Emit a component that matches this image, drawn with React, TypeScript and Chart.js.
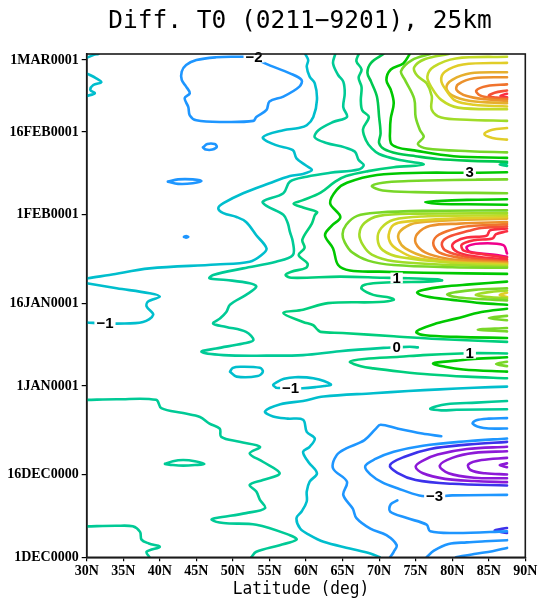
import React, { useEffect, useRef } from "react";
import { Chart, registerables } from "chart.js";

Chart.register(...registerables);

// ---------- axes ----------
const latTicks = [30, 35, 40, 45, 50, 55, 60, 65, 70, 75, 80, 85, 90];
const latTickLabels = ["30N", "35N", "40N", "45N", "50N", "55N", "60N", "65N", "70N", "75N", "80N", "85N", "90N"];
const dayTicks = [0, 15, 31, 46, 62, 77, 90];
const dayTickLabels = ["1DEC0000", "16DEC0000", "1JAN0001", "16JAN0001", "1FEB0001", "16FEB0001", "1MAR0001"];
const latRange = [30, 90];
const dayRange = [0, 91.1];
const titleText = "Diff. T0 (0211\u22129201), 25km";
const xTitleText = "Latitude (deg)";

// ---------- contour lines: [latitude, day since 1 DEC] ----------
const cyanCornerTop = [[30, 90.4], [30.9, 90.9], [31.6, 91.1]];
const cyanLoopTopLeft = [[30, 87.6], [31.3, 86.7], [32.0, 86.0], [30.9, 85.5], [30.5, 84.6], [31.1, 84.0], [30, 83.5]];
const blueMinus2Loop = [[52.8, 90.6], [54.4, 89.4], [57.8, 87.6], [59.4, 86.4], [59.1, 85.2], [56.9, 83.4], [55.0, 82.5], [54.6, 81.0], [53.2, 79.7], [52.8, 79.0], [48.7, 78.8], [45.0, 79.1], [44.1, 80.0], [43.9, 81.5], [43.4, 83.1], [44.1, 84.0], [43.6, 85.2], [43.0, 86.4], [43.0, 87.9], [43.6, 89.1], [45.0, 90.0], [47.7, 90.5], [50.5, 90.6], [52.8, 90.6]];
const blueOvalSmall = [[45.9, 74.2], [46.5, 74.8], [47.5, 74.8], [47.8, 74.3], [47.2, 73.8], [46.3, 73.8], [45.9, 74.2]];
const blueOvalLong = [[41.1, 68.0], [42.5, 68.4], [44.5, 68.4], [45.7, 68.1], [44.5, 67.7], [42.5, 67.6], [41.1, 68.0]];
const blueDot = [[43.3, 58.0], [43.6, 58.15], [43.9, 58.0], [43.6, 57.85], [43.3, 58.0]];

const cyanMain = [[59.9, 91.1], [60.3, 90.0], [60.1, 88.8], [60.5, 87.0], [61.2, 85.8], [61.5, 82.8], [61.0, 79.7], [60.1, 78.2], [59.0, 77.7], [56.9, 77.3], [54.1, 76.0], [55.9, 74.6], [58.2, 73.7], [58.7, 72.2], [59.9, 71.0], [60.8, 70.1], [59.6, 69.4], [57.8, 69.0], [55.0, 67.7], [51.4, 65.9], [48.7, 64.1], [48.0, 63.2], [48.7, 62.3], [50.5, 61.6], [51.8, 60.7], [53.2, 58.3], [54.6, 55.9], [53.9, 54.7], [52.3, 53.5], [47.7, 53.0], [38.6, 52.3], [33.1, 51.1], [30.2, 50.5], [30, 50.4]];
const cyanLeftLoop = [[30, 49.6], [34.1, 48.7], [38.6, 47.8], [40.0, 47.2], [38.4, 46.3], [38.2, 45.4], [39.1, 43.9], [37.7, 42.6], [34.1, 42.3], [32.5, 42.3], [30, 42.5]];

const teal0Line = [[64.0, 91.1], [63.7, 89.4], [64.4, 87.3], [65.1, 86.1], [65.3, 84.0], [65.1, 81.5], [65.6, 79.7], [63.7, 78.8], [61.7, 77.3], [61.2, 76.0], [62.8, 75.0], [65.3, 74.2], [66.7, 73.4], [67.2, 71.9], [67.9, 71.0], [67.2, 70.2], [63.3, 69.6], [60.1, 68.9], [57.8, 68.0], [56.9, 65.9], [54.1, 64.4], [54.6, 63.6], [56.9, 62.0], [57.5, 60.5], [57.8, 58.9], [58.2, 57.1], [58.2, 54.7], [55.9, 53.5], [51.4, 52.3], [47.3, 51.1], [46.8, 50.5], [49.1, 50.2], [52.3, 49.6], [53.2, 49.0], [51.8, 47.5], [49.6, 45.7], [49.1, 44.4], [48.2, 43.2], [47.3, 42.3], [49.1, 41.7], [51.8, 40.8], [52.8, 39.3], [51.4, 38.7], [47.7, 37.8], [45.7, 37.2], [48.7, 36.6], [54.6, 36.5], [59.6, 36.6], [64.6, 37.3], [70.6, 37.9], [72.4, 38.0], [74.2, 38.1], [75.3, 38.0]];
const teal1Line = [[67.2, 91.1], [66.9, 89.8], [67.6, 88.3], [67.2, 86.8], [67.6, 85.1], [67.5, 82.7], [67.7, 80.9], [68.6, 79.7], [67.8, 77.5], [68.2, 75.5], [69.0, 74.0], [70.0, 73.0], [72.5, 72.0], [76.1, 71.1], [72.0, 70.6], [68.5, 69.9], [65.5, 69.0], [64.0, 68.0], [62.0, 66.0], [59.5, 64.6], [58.3, 64.0], [59.6, 63.3], [61.5, 62.5], [61.2, 61.9], [60.8, 60.4], [59.5, 57.5], [59.8, 56.0], [59.0, 54.7], [60.2, 53.2], [60.0, 52.4], [58.0, 51.7], [57.2, 51.1], [58.0, 50.6], [64.7, 50.8], [70.6, 50.6], [72.4, 50.55], [74.0, 50.5], [78.0, 50.3], [78.6, 50.1], [76.5, 49.9], [72.5, 49.8], [69.2, 49.6], [67.8, 49.2], [67.6, 48.6], [69.2, 47.5], [71.5, 47.0], [72.0, 46.6], [70.0, 46.2], [63.0, 46.0], [59.6, 44.8], [56.9, 44.2], [59.6, 42.6], [61.0, 42.0], [61.5, 41.3], [62.0, 40.8], [65.0, 40.6], [72.0, 40.0], [78.0, 39.5], [87.5, 39.0]];
const green2Line = [[70.6, 91.1], [68.9, 89.5], [68.4, 87.7], [68.9, 86.1], [69.7, 83.4], [70.0, 79.7], [70.2, 76.7], [70.0, 75.0], [70.7, 73.9], [72.5, 73.1], [75.0, 72.6], [78.0, 72.1], [82.0, 71.8], [87.5, 71.6]];
const green3Upper = [[74.2, 91.1], [73.3, 89.4], [71.6, 88.3], [71.0, 86.4], [71.6, 84.6], [72.0, 82.2], [71.6, 79.5], [71.5, 77.3], [71.6, 75.0], [72.5, 74.2], [74.5, 73.7], [80.2, 72.6], [87.5, 72.3]];
const green3Big = [[87.5, 69.7], [83.6, 69.6], [81.2, 69.6], [76.1, 69.6], [69.7, 69.2], [65.6, 67.8], [64.2, 66.5], [63.3, 64.1], [64.7, 61.6], [63.5, 60.0], [62.6, 58.3], [63.7, 55.9], [64.4, 52.9], [66.0, 51.9], [70.0, 51.7], [76.1, 51.5], [87.5, 51.3]];
const tealShortU = [[87.5, 71.35], [86.5, 71.1], [87.5, 70.85]];

// top-right maximum (late February)
const yg4TopRight = [[77.0, 91.1], [74.5, 90.0], [73.0, 88.0], [73.5, 86.5], [74.8, 83.0], [75.0, 79.7], [75.6, 77.3], [76.1, 76.1], [75.3, 74.8], [76.5, 74.0], [82.4, 73.5], [87.5, 73.3]];
const yg5TopRight = [[79.5, 91.1], [76.3, 90.2], [74.8, 88.7], [75.2, 87.2], [76.5, 85.8], [77.2, 83.5], [77.2, 81.0], [78.5, 79.6], [82.0, 79.2], [87.5, 79.0]];
const yg6TopRight = [[87.5, 90.6], [80.5, 90.3], [77.5, 88.8], [76.6, 87.0], [77.2, 85.0], [78.5, 82.8], [80.8, 81.4], [87.5, 81.1]];
const yellow7TopRight = [[87.5, 89.5], [81.5, 89.2], [79.0, 87.9], [78.5, 86.3], [79.2, 84.5], [80.5, 82.6], [83.0, 81.9], [87.5, 81.6]];
const gold8TopRight = [[87.5, 87.8], [82.5, 87.6], [80.0, 86.4], [79.2, 85.0], [80.0, 83.6], [82.5, 82.6], [87.5, 82.2]];
const orange9TopRight = [[87.5, 86.9], [83.0, 86.7], [80.8, 85.6], [80.6, 84.6], [82.0, 83.5], [84.5, 82.9], [87.5, 82.6]];
const orange10TopRight = [[87.5, 85.6], [84.8, 85.3], [83.3, 84.5], [83.8, 83.6], [85.5, 83.1], [87.5, 82.9]];
const redOrange11TopRight = [[87.5, 84.5], [85.8, 84.1], [85.0, 83.5], [86.0, 83.2], [87.5, 83.1]];
const red12TopRight = [[87.5, 83.9], [86.6, 83.5], [87.5, 83.25]];
const yellowSmallU = [[87.5, 77.7], [85.5, 77.4], [84.4, 76.6], [85.5, 75.9], [87.5, 75.6]];

// late-January maximum
const yg4Loop = [[87.5, 68.4], [80.0, 68.3], [74.0, 68.1], [70.5, 67.8], [69.0, 67.2], [70.5, 66.4], [75.0, 66.1], [87.5, 65.9]];
const green3SmallLoop = [[87.5, 64.8], [82.0, 64.7], [78.0, 64.5], [76.3, 64.3], [78.0, 64.0], [82.0, 63.9], [87.5, 63.8]];
const yg4Jan = [[87.5, 62.8], [76.0, 62.7], [70.0, 62.4], [67.0, 61.8], [65.5, 60.2], [65.0, 58.5], [65.3, 57.0], [66.3, 55.2], [68.5, 53.7], [72.0, 52.9], [80.0, 52.5], [87.5, 52.4]];
const yg5Jan = [[87.5, 62.3], [75.0, 62.2], [70.0, 61.8], [68.0, 60.5], [67.3, 58.5], [67.8, 56.5], [69.0, 54.8], [72.0, 53.6], [80.0, 52.9], [87.5, 52.6]];
const yg6Jan = [[87.5, 61.9], [76.0, 61.7], [72.0, 61.1], [70.3, 59.6], [69.8, 57.6], [70.5, 55.6], [73.0, 54.3], [80.0, 53.3], [87.5, 52.8]];
const yellow7Jan = [[87.5, 61.6], [80.0, 61.3], [74.0, 60.8], [72.0, 60.2], [71.3, 58.3], [71.6, 56.8], [72.4, 55.8], [74.7, 54.3], [80.0, 53.4], [87.5, 53.0]];
const gold8Jan = [[87.5, 61.3], [80.0, 61.0], [75.5, 60.6], [74.2, 60.2], [72.8, 58.9], [72.7, 57.4], [73.6, 55.9], [76.5, 54.3], [81.0, 53.5], [87.5, 53.15]];
const orange9Jan = [[87.5, 60.7], [81.0, 60.4], [77.0, 60.0], [75.2, 58.5], [75.0, 56.9], [76.3, 55.2], [79.2, 54.1], [83.0, 53.6], [87.5, 53.3]];
const orange10Jan = [[87.5, 60.3], [83.0, 60.0], [81.1, 59.7], [78.2, 58.4], [77.4, 56.9], [78.2, 55.2], [81.5, 54.1], [84.0, 53.7], [87.5, 53.45]];
const redOrange11Jan = [[87.5, 59.9], [84.0, 59.6], [82.3, 59.1], [79.5, 58.0], [78.6, 56.9], [79.0, 55.6], [81.5, 54.5], [84.0, 54.0], [87.5, 53.6]];
const red12Jan = [[87.5, 59.5], [85.2, 59.2], [84.7, 58.2], [82.0, 57.9], [80.5, 57.2], [80.0, 56.3], [80.8, 55.2], [83.0, 54.5], [87.5, 53.9]];
const red13Jan = [[87.5, 59.0], [86.0, 58.5], [85.5, 57.7], [83.0, 57.4], [81.3, 56.6], [81.6, 55.5], [84.0, 54.9], [87.5, 54.2]];
const magenta14Jan = [[87.5, 55.0], [87.0, 56.5], [83.8, 56.8], [82.0, 56.2], [82.4, 55.3], [86.1, 54.7], [87.5, 54.4]];

// mid-January
const green3Mid1 = [[87.5, 49.9], [82.4, 49.4], [78.8, 49.0], [76.0, 48.4], [75.2, 47.9], [76.5, 47.2], [80.0, 46.6], [84.0, 46.0], [87.5, 45.7]];
const yg4Mid = [[87.5, 48.7], [83.0, 48.4], [80.5, 48.0], [79.3, 47.6], [80.5, 47.1], [83.0, 46.8], [87.5, 46.5]];
const yg5Mid = [[87.5, 48.3], [85.0, 48.0], [83.2, 47.5], [85.0, 47.1], [87.5, 46.9]];
const yellowMid = [[87.5, 47.9], [86.5, 47.5], [87.5, 47.1]];
const green3Mid2 = [[87.5, 45.0], [84.0, 44.4], [80.5, 43.2], [77.5, 42.2], [75.5, 41.2], [75.1, 40.7], [76.3, 40.2], [80.6, 39.9], [87.5, 39.7]];
const ygMidShort1 = [[87.5, 43.7], [85.0, 43.3], [87.5, 42.9]];
const ygMidShort2 = [[87.5, 41.5], [83.5, 41.2], [87.5, 40.9]];
const teal1Lower = [[87.5, 36.9], [83.6, 36.95], [81.2, 36.9], [76.0, 36.6], [72.8, 36.3], [68.0, 35.9], [66.0, 35.4], [67.5, 34.6], [69.2, 34.2], [73.0, 33.6], [77.0, 33.1], [82.0, 32.7], [87.5, 32.4]];
const green3LowerU = [[87.5, 36.2], [83.0, 35.9], [80.6, 35.6], [77.4, 35.1], [79.0, 34.5], [81.5, 34.0], [87.5, 33.6]];
const ygLowerShort = [[87.5, 35.4], [86.0, 35.0], [87.5, 34.6]];

// early January and December
const cyanMinus1Loop = [[55.9, 30.7], [55.5, 31.2], [56.0, 31.7], [57.0, 32.3], [58.5, 32.6], [61.0, 32.4], [63.4, 31.3], [62.5, 31.0], [61.3, 30.8], [59.5, 30.6], [57.9, 30.55], [55.9, 30.7]];
const cyanSmallLoop = [[49.6, 33.6], [50.0, 34.3], [51.0, 34.5], [53.7, 34.3], [54.1, 33.6], [53.4, 32.8], [50.5, 32.7], [49.6, 33.6]];
const cyanBottom = [[87.5, 30.9], [83.0, 30.7], [78.3, 30.4], [74.0, 30.1], [69.2, 29.7], [62.4, 29.1], [59.6, 28.3], [56.5, 27.7], [54.4, 26.4], [55.5, 25.5], [57.5, 25.1], [59.6, 24.9], [60.1, 22.7], [61.2, 21.5], [60.5, 20.0], [59.6, 19.1], [60.3, 17.3], [61.5, 15.2], [60.5, 13.7], [60.1, 11.9], [60.1, 10.1], [59.4, 8.3], [58.7, 7.1], [59.2, 5.2], [60.5, 4.0], [62.4, 2.8], [66.0, 1.6], [68.8, 0.7], [70.1, 0]];
const tealU27 = [[87.5, 28.3], [83.3, 28.0], [79.2, 27.7], [77.0, 26.9], [78.5, 26.6], [80.6, 26.7], [87.5, 26.8]];
const teal0BottomLeft = [[30, 28.5], [34.1, 28.6], [39.5, 28.5], [40.2, 27.0], [43.2, 26.1], [45.5, 25.4], [46.8, 24.2], [48.2, 23.3], [48.4, 21.8], [50.9, 20.9], [53.7, 20.0], [52.3, 18.8], [54.1, 17.3], [56.4, 15.2], [54.1, 14.0], [52.3, 13.1], [53.2, 11.9], [53.7, 10.4], [54.4, 8.9], [51.8, 8.0], [47.7, 7.1], [47.1, 6.8], [48.7, 6.2], [53.2, 5.9], [57.8, 4.0], [58.7, 3.2], [56.4, 2.2], [53.2, 1.0], [52.5, 0]];
const teal0Oval = [[40.7, 16.9], [41.8, 17.4], [43.2, 17.6], [44.8, 17.4], [46.1, 16.9], [44.8, 16.7], [43.2, 16.6], [41.8, 16.7], [40.7, 16.9]];
const teal0Corner = [[30, 5.6], [34.0, 5.7], [36.3, 5.6], [37.3, 4.6], [37.5, 3.2], [38.5, 2.5], [40.0, 1.9], [38.2, 1.0], [38.6, 0]];

const dodgerHook = [[87.5, 25.2], [85.0, 25.1], [83.3, 24.8], [82.8, 24.2], [84.3, 23.4], [87.5, 23.3]];
const dodgerVertical = [[78.5, 21.9], [75.9, 22.4], [72.5, 23.3], [70.2, 24.0], [69.5, 23.2], [68.0, 21.2], [65.5, 19.7], [64.2, 18.5], [63.7, 16.1], [65.6, 13.7], [65.1, 11.3], [66.4, 8.8], [66.9, 7.1], [68.8, 5.2], [71.0, 4.0], [72.4, 2.2], [72.0, 1.0], [71.5, 0]];
const dodgerMinus3 = [[87.5, 21.5], [82.0, 21.0], [76.0, 20.2], [72.0, 19.1], [69.5, 17.8], [68.1, 16.5], [68.8, 15.0], [70.5, 13.5], [72.5, 12.5], [75.5, 11.2], [77.6, 11.0], [80.0, 11.2], [87.5, 11.3]];
const blueViolet4 = [[87.5, 20.9], [82.0, 20.4], [77.0, 19.6], [73.5, 18.2], [71.5, 16.7], [72.5, 15.3], [75.0, 14.0], [80.0, 13.3], [87.5, 13.0]];
const purple5 = [[87.5, 20.0], [82.0, 19.6], [78.0, 18.6], [76.0, 17.5], [75.0, 16.4], [76.0, 15.2], [79.0, 14.2], [83.0, 13.8], [87.5, 13.6]];
const purple6 = [[87.5, 19.2], [83.0, 18.9], [80.0, 18.0], [78.3, 16.6], [79.5, 15.2], [83.0, 14.4], [87.5, 14.3]];
const purple7 = [[87.5, 18.0], [84.0, 17.6], [82.2, 16.8], [82.5, 15.8], [84.5, 15.2], [87.5, 15.0]];
const purple8 = [[87.5, 17.0], [86.5, 16.7], [87.5, 16.3]];
const dodgerBelow = [[72.5, 10.3], [71.6, 9.6], [71.5, 8.3], [73.8, 7.1], [76.5, 5.9], [77.0, 4.7], [80.6, 4.4], [87.5, 4.7]];
const blueVioletSmall = [[87.5, 5.3], [85.8, 4.85], [87.5, 4.4]];
const dodgerBottom1 = [[76.5, 0], [77.5, 1.2], [79.5, 2.4], [82.0, 2.7], [84.5, 2.9], [87.5, 3.1]];
const dodgerBottom2 = [[80.5, 0], [83.0, 0.6], [85.5, 1.1], [87.5, 1.7]];

// ---------- colours ----------
const C = {
  purple: "rgb(140,25,215)",
  blueViolet: "rgb(60,50,235)",
  dodger: "rgb(30,150,255)",
  cyan: "rgb(0,190,205)",
  teal0: "rgb(0,202,150)",
  teal1: "rgb(0,206,125)",
  green2: "rgb(0,200,80)",
  green3: "rgb(0,200,0)",
  yg4: "rgb(120,215,40)",
  yg5: "rgb(160,220,40)",
  yg6: "rgb(195,218,40)",
  yellow7: "rgb(225,205,40)",
  gold8: "rgb(230,175,45)",
  orange9: "rgb(235,145,45)",
  orange10: "rgb(240,115,45)",
  redOrange11: "rgb(245,80,55)",
  red12: "rgb(250,45,65)",
  magenta: "rgb(240,0,140)",
};

const contours: [number[][], string][] = [
  [cyanCornerTop, C.cyan], [cyanLoopTopLeft, C.cyan], [blueMinus2Loop, C.dodger], [blueOvalSmall, C.dodger],
  [blueOvalLong, C.dodger], [blueDot, C.dodger], [cyanMain, C.cyan], [cyanLeftLoop, C.cyan],
  [teal0Line, C.teal0], [teal1Line, C.teal1], [green2Line, C.green2], [green3Upper, C.green3], [green3Big, C.green3],
  [tealShortU, C.teal1],
  [yg4TopRight, C.yg4], [yg5TopRight, C.yg5], [yg6TopRight, C.yg6], [yellow7TopRight, C.yellow7], [gold8TopRight, C.gold8],
  [orange9TopRight, C.orange9], [orange10TopRight, C.orange10], [redOrange11TopRight, C.redOrange11], [red12TopRight, C.red12],
  [yellowSmallU, C.yellow7],
  [yg4Loop, C.yg4], [green3SmallLoop, C.green3], [yg4Jan, C.yg4], [yg5Jan, C.yg5], [yg6Jan, C.yg6], [yellow7Jan, C.yellow7],
  [gold8Jan, C.gold8], [orange9Jan, C.orange9], [orange10Jan, C.orange10], [redOrange11Jan, C.redOrange11],
  [red12Jan, C.red12], [red13Jan, C.red12], [magenta14Jan, C.magenta],
  [green3Mid1, C.green3], [yg4Mid, C.yg4], [yg5Mid, C.yg5], [yellowMid, C.yellow7], [green3Mid2, C.green3],
  [ygMidShort1, C.yg4], [ygMidShort2, C.yg4], [teal1Lower, C.teal1], [green3LowerU, C.green3], [ygLowerShort, C.yg4],
  [cyanMinus1Loop, C.cyan], [cyanSmallLoop, C.cyan], [cyanBottom, C.cyan], [tealU27, C.teal0],
  [teal0BottomLeft, C.teal0], [teal0Oval, C.teal0], [teal0Corner, C.teal0],
  [dodgerHook, C.dodger], [dodgerVertical, C.dodger], [dodgerMinus3, C.dodger], [blueViolet4, C.blueViolet],
  [purple5, C.purple], [purple6, C.purple], [purple7, C.purple], [purple8, C.purple],
  [dodgerBelow, C.dodger], [blueVioletSmall, C.blueViolet], [dodgerBottom1, C.dodger], [dodgerBottom2, C.dodger],
];

const labelTexts = ["\u22122", "3", "1", "\u22121", "0", "1", "\u22121", "\u22123"];
const labelLats = [52.9, 82.4, 72.4, 32.5, 72.4, 82.4, 57.9, 77.6];
const labelDays = [90.55, 69.6, 50.55, 42.35, 38.0, 36.95, 30.6, 11.0];

const decorPlugin = {
  id: "decor",
  afterDatasetsDraw(chart: any) {
    const { ctx, scales } = chart;
    const xs = scales.x, ys = scales.y;
    ctx.save();
    ctx.font = 'bold 15px "Liberation Sans"';
    ctx.textAlign = "center";
    ctx.textBaseline = "middle";
    labelTexts.forEach((t, i) => {
      const px = xs.getPixelForValue(labelLats[i]);
      const py = ys.getPixelForValue(labelDays[i]);
      const w = ctx.measureText(t).width;
      ctx.fillStyle = "#ffffff";
      ctx.fillRect(px - w / 2 - 2, py - 5.5, w + 4, 11);
      ctx.fillStyle = "#000000";
      ctx.fillText(t, px, py + 0.5);
    });
    ctx.restore();
  },
  afterDraw(chart: any) {
    const { ctx, chartArea: a } = chart;
    ctx.save();
    ctx.strokeStyle = "#1a1a1a";
    ctx.lineWidth = 1.6;
    ctx.strokeRect(a.left, a.top, a.right - a.left, a.bottom - a.top);
    ctx.fillStyle = "#000";
    ctx.textAlign = "center";
    ctx.textBaseline = "middle";
    ctx.font = '24.5px "DejaVu Sans Mono"';
    ctx.fillText(titleText, 300, 22);
    ctx.translate(301, 589);
    ctx.scale(0.9, 1);
    ctx.font = '18px "DejaVu Sans Mono"';
    ctx.fillText(xTitleText, 0, 0);
    ctx.restore();
  },
};

export default function App() {
  const canvasRef = useRef<HTMLCanvasElement | null>(null);

  useEffect(() => {
    const canvas = canvasRef.current;
    if (!canvas) return;
    const datasets = contours.map(([pts, color]) => ({
      data: pts.map(([lat, day]) => ({ x: lat, y: day })),
      borderColor: color,
      backgroundColor: color,
      borderWidth: 2.6,
      pointRadius: 0,
      showLine: true,
      tension: 0.35,
      borderJoinStyle: "round" as const,
      borderCapStyle: "round" as const,
      fill: false,
    }));
    const tickFont = { family: "Liberation Serif", size: 14, weight: "bold" as const };
    const chart = new Chart(canvas, {
      type: "scatter",
      data: { datasets },
      options: {
        responsive: false,
        devicePixelRatio: 1,
        animation: false,
        events: [],
        layout: { padding: { left: 0, right: 17.7, top: 54, bottom: 0 } },
        plugins: { legend: { display: false }, tooltip: { enabled: false }, title: { display: false } },
        scales: {
          x: {
            type: "linear",
            min: latRange[0],
            max: latRange[1],
            afterBuildTicks: (s: any) => { s.ticks = latTicks.map((v) => ({ value: v })); },
            afterFit: (s: any) => { s.height = 44.7; },
            ticks: {
              autoSkip: false,
              maxRotation: 0,
              padding: 2,
              color: "#000",
              font: tickFont,
              callback: (v: any) => latTickLabels[latTicks.indexOf(Number(v))] ?? "",
            },
            grid: { display: true, drawOnChartArea: false, drawTicks: true, tickLength: 4, color: "#000", lineWidth: 1.2 },
            border: { display: true, color: "#000", width: 1.5 },
          },
          y: {
            type: "linear",
            min: dayRange[0],
            max: dayRange[1],
            afterBuildTicks: (s: any) => { s.ticks = dayTicks.map((v) => ({ value: v })); },
            afterFit: (s: any) => { s.width = 86.7; },
            ticks: {
              autoSkip: false,
              padding: 3,
              color: "#000",
              font: tickFont,
              callback: (v: any) => dayTickLabels[dayTicks.indexOf(Number(v))] ?? "",
            },
            grid: { display: true, drawOnChartArea: false, drawTicks: true, tickLength: 5, color: "#000", lineWidth: 1.2 },
            border: { display: true, color: "#000", width: 1.5 },
          },
        },
      },
      plugins: [decorPlugin],
    });
    return () => chart.destroy();
  }, []);

  return (
    <div style={{ position: "absolute", left: 0, top: 0, width: 543, height: 602, background: "#fff" }}>
      <canvas ref={canvasRef} width={543} height={602} style={{ display: "block", width: 543, height: 602 }} />
    </div>
  );
}
